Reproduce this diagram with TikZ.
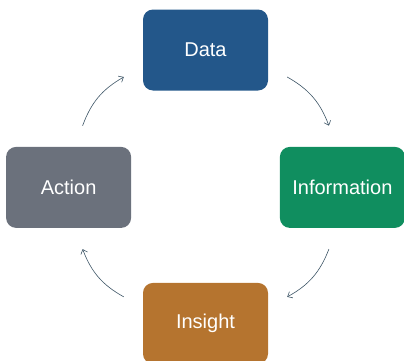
\documentclass[tikz,border=0pt]{standalone}
\usepackage{fontspec}
\setmainfont{Liberation Sans}
\usetikzlibrary{arrows.meta, positioning}
\definecolor{datablue}{RGB}{35,87,138}
\definecolor{infogreen}{RGB}{16,142,95}
\definecolor{insightbrown}{RGB}{181,116,47}
\definecolor{actiongray}{RGB}{107,113,124}
\definecolor{arrowslate}{RGB}{61,85,102}

\begin{document}
\begin{tikzpicture}[x=1pt, y=1pt, node distance=56pt,
    stagebox/.style={rectangle, rounded corners=10pt, minimum width=125pt, minimum height=81pt,
      inner sep=0pt, text=white, font=\fontsize{20}{24}\selectfont},
    cyclearrow/.style={-{Straight Barb[length=4pt, width=7pt]}, draw=arrowslate, line width=0.6pt, bend left=20}]
    \useasboundingbox (0,0) rectangle (404,360);

    % Stages
    \node[stagebox, fill=datablue] (data) at (205.5,310) {Data};
    \node[stagebox, fill=infogreen, below right=56pt and 11.5pt of data] (info) {Information};
    \node[stagebox, fill=actiongray, below left=56pt and 11.5pt of data] (action) {Action};
    \node[stagebox, fill=insightbrown, below=192pt of data] (insight) {Insight};

    % Arrows
    \draw[cyclearrow] ([shift={(19,-27)}]data.east) to ([shift={(-13.5,21)}]info.north);
    \draw[cyclearrow] ([shift={(-13.5,-21)}]info.south) to ([shift={(19,26.5)}]insight.east);
    \draw[cyclearrow] ([shift={(-19,26.5)}]insight.west) to ([shift={(14,-21)}]action.south);
    \draw[cyclearrow] ([shift={(14,21)}]action.north) to ([shift={(-19,-27)}]data.west);
\end{tikzpicture}
\end{document}
